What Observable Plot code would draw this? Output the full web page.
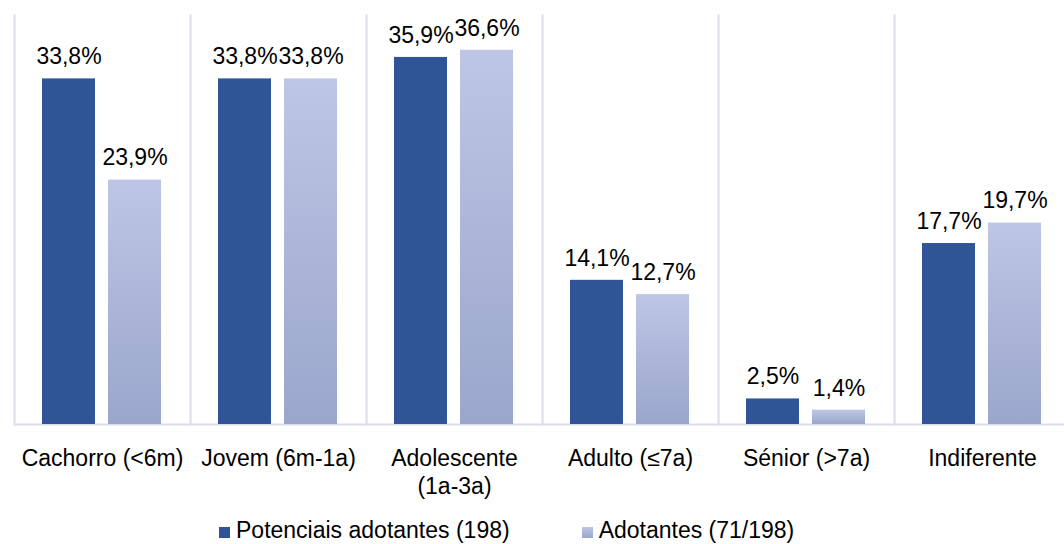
<!DOCTYPE html>
<html>
<head>
<meta charset="utf-8">
<script src="https://cdn.jsdelivr.net/npm/d3@7"></script>
<script src="https://cdn.jsdelivr.net/npm/@observablehq/plot@0.6"></script>
<style>
  body { margin: 0; background: #fff; font-family: "Liberation Sans", Arial, sans-serif; }
  #wrap { position: relative; width: 1064px; height: 544px; overflow: hidden; }
  #legend { position: absolute; left: 219px; top: 519px; font-size: 23px; line-height: 23px; color: #000; white-space: nowrap; }
  .sw { display: inline-block; width: 11px; height: 11px; margin-right: 6px; vertical-align: baseline; }
</style>
</head>
<body>
<div id="wrap"><div id="chart"></div><div id="legend"></div></div>
<script>
const categories = ["Cachorro (<6m)", "Jovem (6m-1a)", "Adolescente\n(1a-3a)", "Adulto (≤7a)", "Sénior (>7a)", "Indiferente"];
const seriesNames = ["Potenciais adotantes (198)", "Adotantes (71/198)"];
const potenciais = [33.8, 33.8, 35.9, 14.1, 2.5, 17.7];
const adotantes = [23.9, 33.8, 36.6, 12.7, 1.4, 19.7];

const data = [];
categories.forEach((c, i) => {
  data.push({cat: c, series: seriesNames[0], value: potenciais[i]});
  data.push({cat: c, series: seriesNames[1], value: adotantes[i]});
});
const fmt = v => v.toFixed(1).replace(".", ",") + "%";
const darkColor = "#2F5597";
const gradUrl = "url(#lightGrad)";

const chart = Plot.plot({
  width: 1064,
  height: 510,
  marginTop: 15,
  marginBottom: 86,
  marginLeft: 12,
  marginRight: 0,
  style: {fontFamily: "'Liberation Sans', Arial, sans-serif", fontSize: "23px", color: "#000", background: "#fff"},
  fx: {domain: categories, range: [12, 1071], padding: 0, label: null},
  x: {domain: seriesNames, paddingInner: 13/67, paddingOuter: 0.414, axis: null},
  y: {domain: [0, 40], axis: null},
  marks: [
    Plot.frame({anchor: "left", stroke: "#D9DEE8", strokeWidth: 2}),
    Plot.ruleY([0], {stroke: "#D9DEE8", strokeWidth: 2}),
    Plot.barY(data.filter(d => d.series === seriesNames[0]), {fx: "cat", x: "series", y: "value", fill: darkColor}),
    Plot.barY(data.filter(d => d.series === seriesNames[1]), {fx: "cat", x: "series", y: "value", fill: gradUrl}),
    Plot.text(data, {fx: "cat", x: "series", y: "value", text: d => fmt(d.value), dy: -22, fill: "#000", fontSize: 23}),
    Plot.axisFx({anchor: "bottom", tickSize: 0, tickPadding: 22, fontSize: 23, lineHeight: 1.22, label: null, fill: "#000"})
  ]
});

const svg = d3.select(chart);
const defs = svg.insert("defs", ":first-child");
const g = defs.append("linearGradient").attr("id", "lightGrad").attr("x1", 0).attr("y1", 0).attr("x2", 0).attr("y2", 1);
g.append("stop").attr("offset", "0%").attr("stop-color", "#BDC6E4");
g.append("stop").attr("offset", "100%").attr("stop-color", "#9AA6CC");

document.getElementById("chart").appendChild(chart);

const legend = document.getElementById("legend");
legend.innerHTML =
  `<span class="sw" style="background:${darkColor}"></span>${seriesNames[0]}` +
  `<span style="display:inline-block;width:72px"></span>` +
  `<span class="sw" style="background:linear-gradient(#BDC6E4,#9AA6CC)"></span>${seriesNames[1]}`;
</script>
</body>
</html>
